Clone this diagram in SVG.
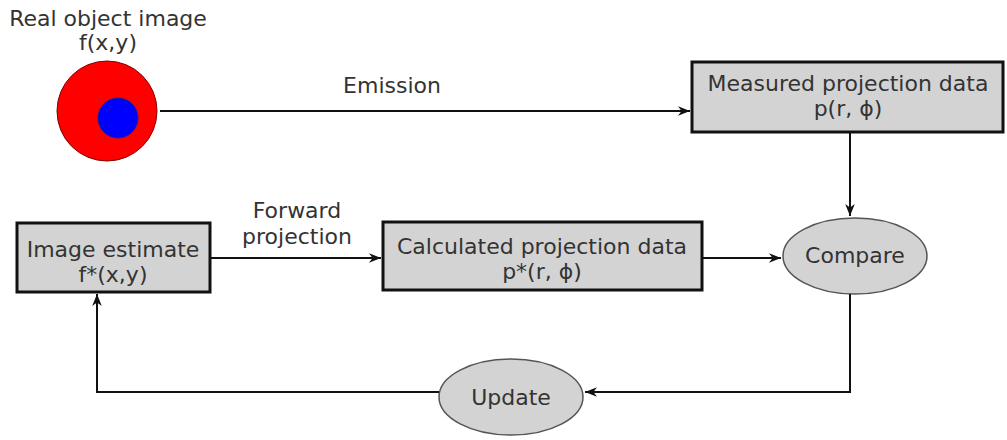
<svg xmlns="http://www.w3.org/2000/svg" width="1007" height="440" viewBox="0 0 1007 440">
<style>
text{font-family:"DejaVu Sans",sans-serif;font-size:22px;fill:#333;text-anchor:middle}
.box{fill:#d3d3d3;stroke:#111;stroke-width:3}
.ell{fill:#d3d3d3;stroke:#555;stroke-width:1.5}
.con{fill:none;stroke:#111;stroke-width:2}
</style>
<defs>
<marker id="ah" viewBox="0 0 10 10" refX="10" refY="5" markerWidth="12" markerHeight="12" markerUnits="userSpaceOnUse" orient="auto">
<path d="M0,1 L10,5 L0,9 L3,5 z" fill="#111"/>
</marker>
</defs>
<rect width="1007" height="440" fill="#fff"/>
<g id="real-object">
<text x="108" y="26">Real object image</text>
<text x="108" y="50">f(x,y)</text>
<circle cx="107" cy="111" r="50" fill="#f00" stroke="#800" stroke-width="1"/>
<circle cx="118" cy="118" r="20" fill="#00f" stroke="#228" stroke-width="1"/>
</g>
<g id="measured">
<rect class="box" x="692" y="62" width="311" height="70"/>
<text x="848" y="91">Measured projection data</text>
<text x="848" y="116">p(r, ϕ)</text>
</g>
<g id="image-estimate">
<rect class="box" x="17" y="223" width="193" height="69"/>
<text x="113" y="257">Image estimate</text>
<text x="113" y="282">f*(x,y)</text>
</g>
<g id="calculated">
<rect class="box" x="383" y="222" width="319" height="68"/>
<text x="542" y="254">Calculated projection data</text>
<text x="542" y="279">p*(r, ϕ)</text>
</g>
<g id="compare">
<ellipse class="ell" cx="855" cy="256" rx="72" ry="38"/>
<text x="855" y="263">Compare</text>
</g>
<g id="update">
<ellipse class="ell" cx="511" cy="397" rx="72" ry="38"/>
<text x="511" y="405">Update</text>
</g>
<g id="connectors">
<path class="con" d="M160,111 H690" marker-end="url(#ah)"/>
<text x="392" y="93">Emission</text>
<path class="con" d="M850,133 V216" marker-end="url(#ah)"/>
<path class="con" d="M211,258 H381" marker-end="url(#ah)"/>
<text x="297" y="218">Forward</text>
<text x="297" y="244">projection</text>
<path class="con" d="M703,258 H781" marker-end="url(#ah)"/>
<path class="con" d="M850,294 V392 H585" marker-end="url(#ah)"/>
<path class="con" d="M439,392 H97 V294" marker-end="url(#ah)"/>
</g>
</svg>
